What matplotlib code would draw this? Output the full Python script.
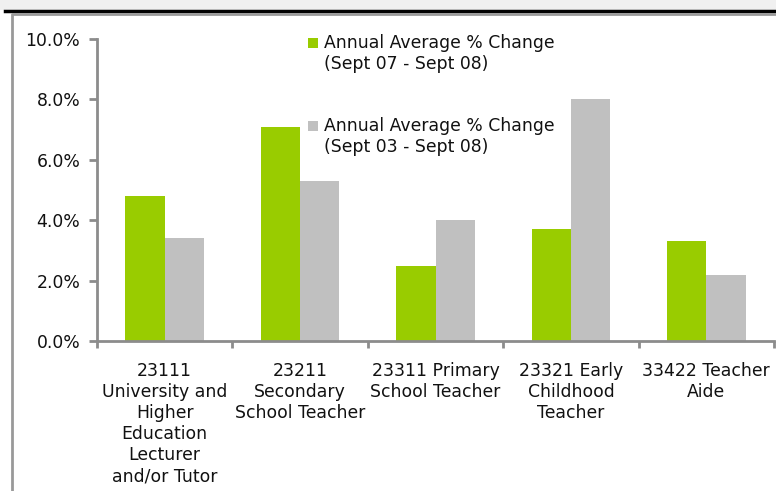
import matplotlib.pyplot as plt
import numpy as np
from matplotlib.patches import Rectangle
from matplotlib.lines import Line2D

#### Data ####
categories = ["23111\nUniversity and\nHigher\nEducation\nLecturer\nand/or Tutor",
              "23211\nSecondary\nSchool Teacher",
              "23311 Primary\nSchool Teacher",
              "23321 Early\nChildhood\nTeacher",
              "33422 Teacher\nAide"]
change_07_08 = [4.8, 7.1, 2.5, 3.7, 3.3]
change_03_08 = [3.4, 5.3, 4.0, 8.0, 2.2]
series_names = ["Annual Average % Change\n(Sept 07 - Sept 08)",
                "Annual Average % Change\n(Sept 03 - Sept 08)"]
yticks = [0, 2, 4, 6, 8, 10]

green = '#99cc00'
grey = '#c0c0c0'
spine = '#8c8c8c'
fs = 12.4

plt.rcParams['font.family'] = 'DejaVu Sans'
fig = plt.figure(figsize=(7.76, 4.91), dpi=100)

# outer frame decorations
fig.patches.append(Rectangle((0, 1 - 9.5/491), 1, 9.5/491, transform=fig.transFigure,
                             facecolor='#f0f0f0', edgecolor='none'))
fig.lines.append(Line2D([5/776, 1], [1 - 10.5/491] * 2, transform=fig.transFigure,
                        color='black', lw=2.5))
fig.lines.append(Line2D([11.5/776, 11.5/776, 1], [0, 1 - 13.5/491, 1 - 13.5/491],
                        transform=fig.transFigure, color='#999999', lw=2))

ax = fig.add_axes([97/776, 1 - 341/491, (774 - 97)/776, (341 - 39)/491])

x = np.arange(len(categories))
w = 0.29
ax.bar(x - w/2, change_07_08, w, color=green)
ax.bar(x + w/2, change_03_08, w, color=grey)

ax.set_xlim(-0.5, len(categories) - 0.5)
ax.set_ylim(0, 10)
ax.set_yticks(yticks)
ax.set_yticklabels(['%.1f%%' % v for v in yticks], fontsize=fs, color='#111111')
ax.set_xticks(np.arange(len(categories) + 1) - 0.5)
ax.set_xticklabels([])
ax.set_xticks(x, minor=True)
ax.set_xticklabels(categories, minor=True, fontsize=fs, color='#111111',
                   linespacing=1.22, va='top')
ax.tick_params(axis='x', which='minor', length=0, pad=15)
ax.tick_params(axis='x', which='major', length=5, width=2, color=spine, direction='out')
ax.tick_params(axis='y', length=6, width=2, color=spine, direction='out', pad=6)

for s in ['top', 'right']:
    ax.spines[s].set_visible(False)
for s in ['left', 'bottom']:
    ax.spines[s].set_color(spine)
    ax.spines[s].set_linewidth(2)

# legend, drawn by hand so the marker sits on the first line
for i, (name, c) in enumerate(zip(series_names, [green, grey])):
    fig.patches.append(Rectangle((308/776, 1 - (48 + 83 * i)/491), 10/776, 10/491,
                                 transform=fig.transFigure, facecolor=c, edgecolor='none'))
    fig.text(324/776, 1 - (34 + 83 * i)/491, name, fontsize=fs, color='#111111',
             va='top', ha='left', linespacing=1.22)

fig.savefig('out.png', dpi=100)
